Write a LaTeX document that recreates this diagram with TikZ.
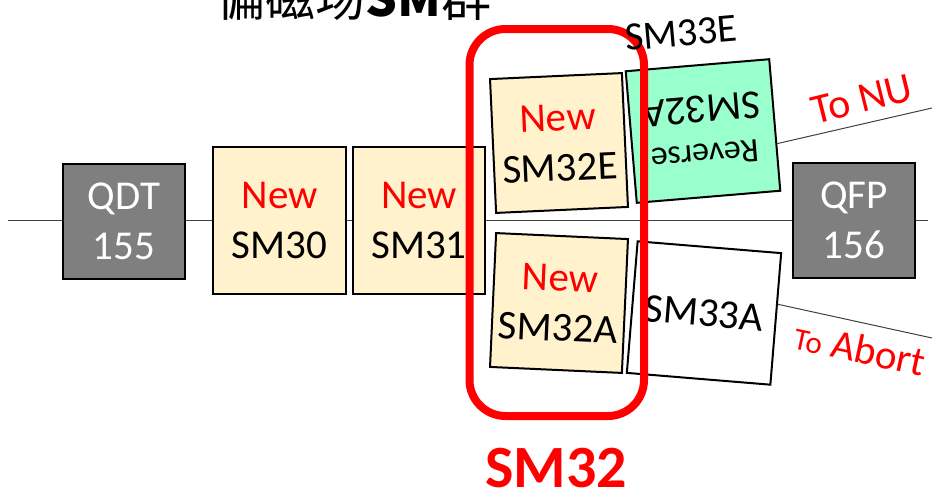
\documentclass[tikz,border=0pt]{standalone}
\usepackage{fontspec}
\setmainfont{Carlito}
\newfontfamily\cjkfont{Noto Sans CJK SC}
\usetikzlibrary{calc}
\definecolor{boxyellow}{HTML}{FFF2CC}
\definecolor{boxgray}{HTML}{7F7F7F}
\definecolor{boxgreen}{HTML}{99FFCC}
\definecolor{linegray}{HTML}{404040}
\tikzset{
  base/.style={draw=black, line width=2pt, inner sep=0pt, align=center,
    font=\fontsize{41}{50}\selectfont},
  graybox/.style={base, fill=boxgray, text=white, minimum width=122pt, minimum height=115pt},
  newbox/.style={base, fill=boxyellow, minimum width=132pt, minimum height=134pt},
  sidebox/.style={base, minimum width=144pt, minimum height=132pt},
  conn/.style={draw=linegray, line width=1pt},
  redlabel/.style={text=red, inner sep=0pt},
}
\newcommand{\nw}{{\color{red}New}}
\begin{document}
\begin{tikzpicture}[x=1pt,y=-1pt]
\useasboundingbox (0,0) rectangle (932,490);
\clip (0,0) rectangle (932,490);
% title (cut off at top)
\node[anchor=base west, inner sep=0pt, font=\cjkfont\fontsize{50}{60}\selectfont] (title) at (215,16) {偏磁场\textbf{SM}群};
% main line
\coordinate (lstart) at (8,220);
\coordinate (lend) at (928,220);
\draw[conn] (lstart) -- (lend);
% boxes
\node[graybox] (qdt) at (124,221) {QDT\\155};
\node[base, fill=boxyellow, minimum width=133pt, minimum height=147pt] (sm30) at (279.5,220.5) {\nw\\SM30};
\node[base, fill=boxyellow, minimum width=132pt, minimum height=147pt] (sm31) at (419,220.5) {\nw\\SM31};
\node[graybox] (qfp) at (854,220.5) {QFP\\156};
\node[newbox, rotate=2.6] (sm32e) at (559,143) {\nw\\SM32E};
\node[newbox, rotate=-2.6] (sm32a) at (559,303) {\nw\\SM32A};
\node[sidebox, fill=boxgreen, rotate=184.8] (sm33e) at (703,131) {{\fontsize{34}{40}\selectfont Reverse}\\[-2pt]SM32A};
\node[sidebox, fill=white, rotate=-4.7] (sm33a) at (704,313) {SM33A};
% branch lines
\coordinate (nu) at (932,108);
\coordinate (ab) at (932,338);
\draw[conn] ($(sm33e.south west)!0.64!(sm33e.north west)$) -- (nu);
\draw[conn] ($(sm33a.north east)!0.39!(sm33a.south east)$) -- (ab);
\node[redlabel, rotate=14, font=\fontsize{42}{48}\selectfont] (tonu) at (862,99) {To NU};
\node[redlabel, rotate=-12, font=\fontsize{41}{48}\selectfont] (toabort) at (860,349) {{\fontsize{31}{36}\selectfont To} Abort};
% red highlight
\draw[red, line width=8pt, rounded corners=36pt] (469.5,29) rectangle (644,416);
\node[rotate=5, inner sep=0pt, font=\fontsize{40}{48}\selectfont] (sm33elbl) at (681,33) {SM33E};
\node[anchor=base, inner sep=0pt, text=red, font=\bfseries\fontsize{60}{70}\selectfont] (sm32lbl) at (556,487) {SM32};
\end{tikzpicture}
\end{document}
